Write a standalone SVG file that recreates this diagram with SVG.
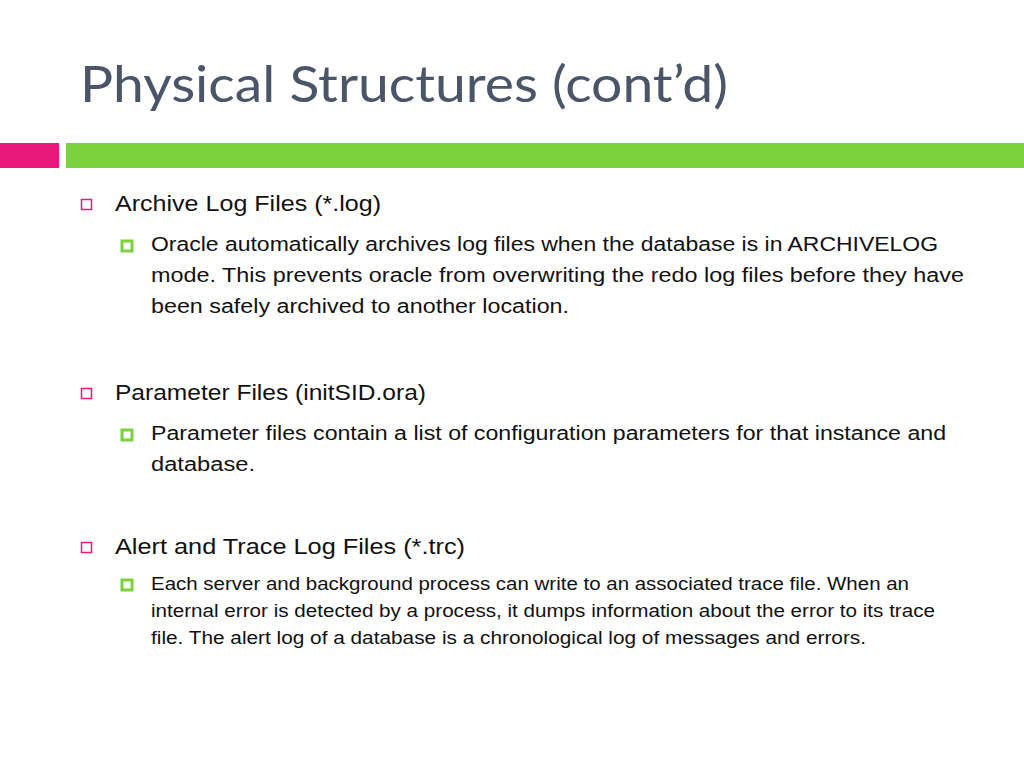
<svg xmlns="http://www.w3.org/2000/svg" width="1024" height="768" viewBox="0 0 1024 768">
<style>
.t{font-family:"Liberation Sans",Arial,sans-serif;fill:#111}
.h{font-size:22px}
.b{font-size:20px}
.s{font-size:17.5px}
</style>
<rect width="1024" height="768" fill="#fff"/>
<text x="80" y="102" font-family="Lato,'Liberation Sans',sans-serif" font-size="50" fill="#4b5569" textLength="648" lengthAdjust="spacingAndGlyphs">Physical Structures (cont’d)</text>
<rect x="0" y="143" width="59" height="25" fill="#e8197a"/>
<rect x="66" y="143" width="958" height="25" fill="#7ad23c"/>
<g id="n1">
<rect x="81.5" y="199.5" width="10" height="10" fill="none" stroke="#e8197a" stroke-width="1.5"/>
<text class="t h" x="115" y="211" textLength="266" lengthAdjust="spacingAndGlyphs">Archive Log Files (*.log)</text>
<rect x="122" y="241" width="10" height="10" fill="none" stroke="#7ad23c" stroke-width="3"/>
<text class="t b" x="151" y="251" textLength="787" lengthAdjust="spacingAndGlyphs">Oracle automatically archives log files when the database is in ARCHIVELOG</text>
<text class="t b" x="151" y="282" textLength="813" lengthAdjust="spacingAndGlyphs">mode.  This prevents oracle from overwriting the redo log files before they have</text>
<text class="t b" x="151" y="313" textLength="418" lengthAdjust="spacingAndGlyphs">been safely archived to another location.</text>
</g>
<g id="n2">
<rect x="81.5" y="388.5" width="10" height="10" fill="none" stroke="#e8197a" stroke-width="1.5"/>
<text class="t h" x="115" y="400" textLength="311" lengthAdjust="spacingAndGlyphs">Parameter Files (initSID.ora)</text>
<rect x="122" y="430" width="10" height="10" fill="none" stroke="#7ad23c" stroke-width="3"/>
<text class="t b" x="151" y="440" textLength="795" lengthAdjust="spacingAndGlyphs">Parameter files contain a list of configuration parameters for that instance and</text>
<text class="t b" x="151" y="471" textLength="104" lengthAdjust="spacingAndGlyphs">database.</text>
</g>
<g id="n3">
<rect x="81.5" y="542.5" width="10" height="10" fill="none" stroke="#e8197a" stroke-width="1.5"/>
<text class="t h" x="115" y="554" textLength="350" lengthAdjust="spacingAndGlyphs">Alert and Trace Log Files (*.trc)</text>
<rect x="122" y="580" width="10" height="10" fill="none" stroke="#7ad23c" stroke-width="3"/>
<text class="t s" x="151" y="590" textLength="758" lengthAdjust="spacingAndGlyphs">Each server and background process can write to an associated trace file. When an</text>
<text class="t s" x="151" y="617" textLength="784" lengthAdjust="spacingAndGlyphs">internal error is detected by a process, it dumps information about the error to its trace</text>
<text class="t s" x="151" y="644" textLength="715" lengthAdjust="spacingAndGlyphs">file. The alert log of a database is a chronological log of messages and errors.</text>
</g>
<g id="connectors"/>
</svg>
